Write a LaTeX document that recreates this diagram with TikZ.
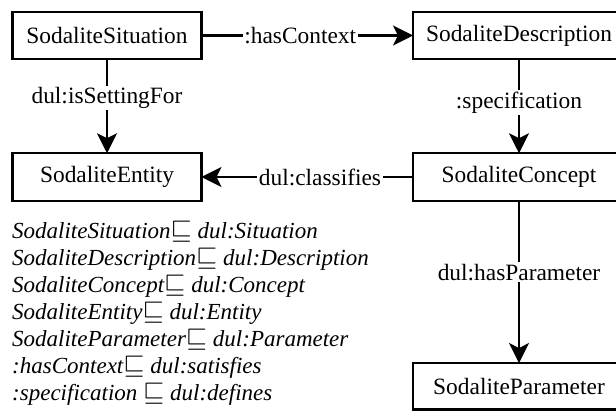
\documentclass[tikz,border=0pt]{standalone}
\usepackage{amssymb}
\usepackage{fontspec}
\setmainfont{Liberation Serif}
\usetikzlibrary{arrows.meta}
\newcommand{\subrel}{\scalebox{1.1}{$\sqsubseteq$}}
\tikzset{
  cls/.style={draw, line width=2.4pt, inner sep=0pt, outer sep=0pt,
    minimum height=47.5pt, font=\fontsize{23.4}{26}\selectfont},
  rel/.style={line width=2.2pt, -{Stealth[length=20pt,width=20pt,inset=5pt]}},
  lbl/.style={fill=white, inner sep=1.5pt, font=\fontsize{23.4}{26}\selectfont},
}
\begin{document}
\begin{tikzpicture}[x=1pt, y=-1pt]
  \clip (0,0) rectangle (616,411);
  \fill[white] (0,0) rectangle (616,411);

  % classes
  \node[cls, minimum width=189pt] (sit)  at (107,35.5)  {SodaliteSituation};
  \node[cls, minimum width=189pt] (ent)  at (107,177)   {SodaliteEntity};
  \node[cls, minimum width=212pt] (desc) at (519,35.5)  {SodaliteDescription};
  \node[cls, minimum width=212pt] (conc) at (519,177)   {SodaliteConcept};
  \node[cls, minimum width=212pt, minimum height=46.5pt] (par) at (519,386.3) {SodaliteParameter};

  % relations
  \draw[rel] (sit.east) -- node[lbl, pos=0.467] (lctx) {:hasContext} (desc.west);
  \draw[rel] (sit.south) -- node[lbl, pos=0.41] (lset) {dul:isSettingFor} (ent.north);
  \draw[rel] (desc.south) -- node[lbl, pos=0.46] (lspec) {:specification} (conc.north);
  \draw[rel] (conc.west) -- node[lbl, pos=0.44] (lcls) {dul:classifies} (ent.east);
  \draw[rel] (conc.south) -- node[lbl, pos=0.44] (lpar) {dul:hasParameter} (par.north);

  % axioms
  \node[anchor=north west, inner sep=0pt, align=left,
        font=\itshape\fontsize{23}{27}\selectfont] (axioms) at (12,221)
  {SodaliteSituation\subrel\ dul:Situation\\
   SodaliteDescription\subrel\ dul:Description\\
   SodaliteConcept\subrel\ dul:Concept\\
   SodaliteEntity\subrel\ dul:Entity\\
   SodaliteParameter\subrel\ dul:Parameter\\
   :hasContext\subrel\ dul:satisfies\\
   :specification \subrel\ dul:defines};
\end{tikzpicture}
\end{document}
